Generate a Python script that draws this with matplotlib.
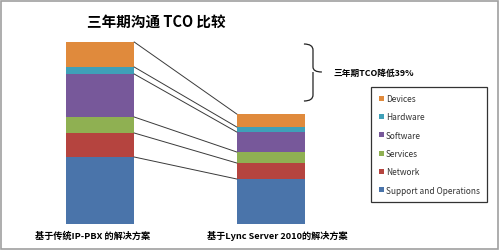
import numpy as np
import matplotlib.pyplot as plt
from matplotlib.patches import Patch, Rectangle, PathPatch
from matplotlib.path import Path

plt.rcParams['font.family'] = ['Noto Sans CJK SC', 'DejaVu Sans']

# === Dati: costo TCO su tre anni per componente ===
categories = ['基于传统IP-PBX 的解决方案', '基于Lync Server 2010的解决方案']
components = ['Support and Operations', 'Network', 'Services',
              'Software', 'Hardware', 'Devices']
ip_pbx = [67, 24, 16, 43, 7, 25]
lync = [45, 16, 11, 20, 5, 13]
colors = ['#4A74AA', '#B5443F', '#8FB052', '#77589A', '#3FA0B8', '#E08A3C']

title = '三年期沟通 TCO 比较'
saving_label = '三年期TCO降低39%'

# === Figura ===
fig = plt.figure(figsize=(5.0, 2.51), dpi=100)
ax = fig.add_axes([0, 0, 1, 1])
ax.set_xlim(-0.585, 2.34)
ax.set_ylim(-26, 225)
ax.axis('off')

width = 0.4
x = np.arange(len(categories))
stacks = np.array([ip_pbx, lync])

bottoms = np.zeros(len(categories))
for i, comp in enumerate(components):
    ax.bar(x, stacks[:, i], width, bottom=bottoms, color=colors[i],
           label=comp, linewidth=0)
    bottoms += stacks[:, i]

# linee di collegamento tra i segmenti delle due colonne
tops = np.cumsum(stacks, axis=1)
lows = np.hstack([np.zeros((2, 1)), tops[:, :-1]])
for j in range(1, len(components)):
    ax.plot([x[0] + width / 2, x[1] - width / 2], [lows[0, j], lows[1, j]],
            color='#3a3a3a', lw=0.7)
ax.plot([x[0] + width / 2, x[1] - width / 2], [tops[0, -1], tops[1, -1]],
        color='#3a3a3a', lw=0.7)

# etichette sotto le colonne
for xi, dx, lab in zip(x, [-0.045, 0.04], categories):
    ax.text(xi + dx, -11, lab, ha='center', va='center', fontsize=6.6,
            fontweight='bold')

# parentesi graffa con la riduzione
bx0, bx1, bx2 = 1.193, 1.246, 1.298
yt, yb, ym = 180, 123, 152
verts = [(bx0, yt), (bx1, yt), (bx1, yt - 6),
         (bx1, ym + 5),
         (bx1, ym), (bx2, ym),
         (bx1, ym), (bx1, ym - 5),
         (bx1, yb + 6),
         (bx1, yb), (bx0, yb)]
codes = [Path.MOVETO, Path.CURVE3, Path.CURVE3,
         Path.LINETO,
         Path.CURVE3, Path.CURVE3,
         Path.MOVETO, Path.LINETO,
         Path.LINETO,
         Path.CURVE3, Path.CURVE3]
ax.add_patch(PathPatch(Path(verts, codes), fill=False, edgecolor='#222222', lw=0.9))
ax.text(1.368, ym, saving_label, ha='left', va='center', fontsize=6.3,
        fontweight='bold')

# titolo
fig.text(0.312, 0.912, title, ha='center', va='center', fontsize=10.5,
         fontweight='bold')

# legenda in ordine inverso
handles = [Patch(facecolor=c, edgecolor='none') for c in colors[::-1]]
leg = ax.legend(handles, components[::-1], loc='upper left',
                bbox_to_anchor=(0.742, 0.651), bbox_transform=fig.transFigure,
                fontsize=6, frameon=True, fancybox=False, labelspacing=1.12,
                handlelength=0.6, handleheight=0.6, handletextpad=0.3,
                borderpad=0.9, borderaxespad=0)
leg.get_frame().set_edgecolor('black')
leg.get_frame().set_linewidth(0.9)
for t in leg.get_texts():
    t.set_color('#333333')

# bordo esterno
fig.patches.append(Rectangle((0.002, 0.004), 0.994, 0.99, transform=fig.transFigure,
                             fill=False, edgecolor='#a0a0a0', lw=1.2))

fig.savefig('out.png', dpi=100)
